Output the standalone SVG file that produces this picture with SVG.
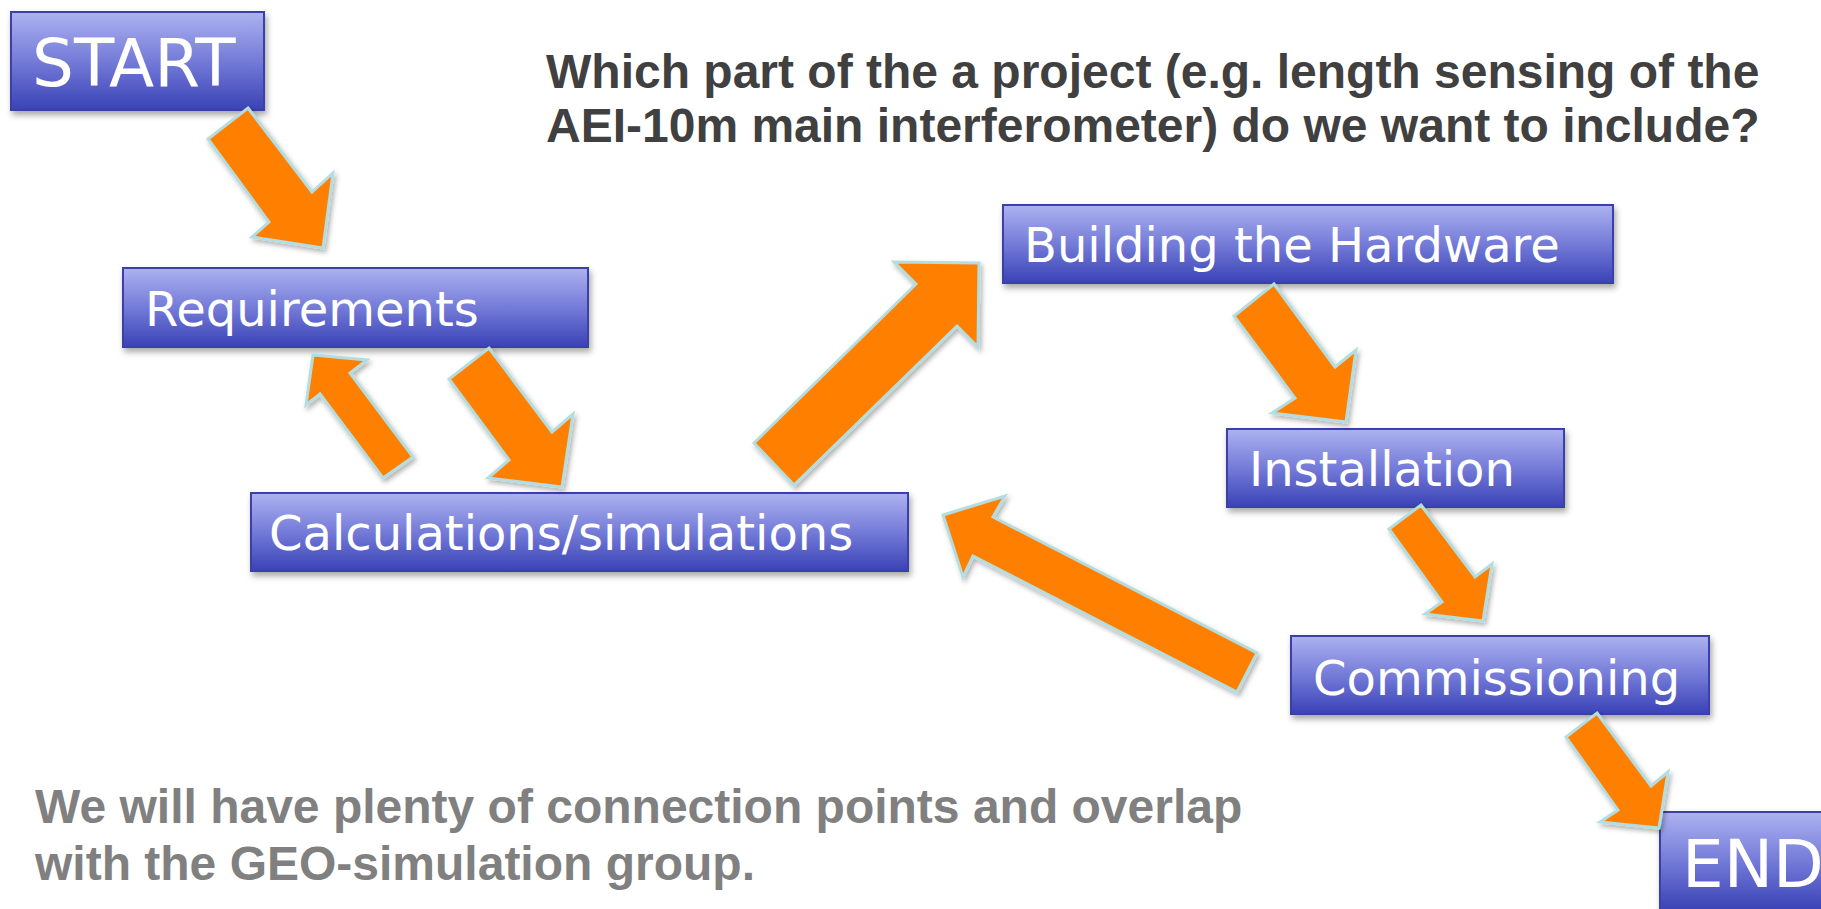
<svg xmlns="http://www.w3.org/2000/svg" width="1821" height="909" viewBox="0 0 1821 909">
<defs>
<linearGradient id="boxg" x1="0" y1="0" x2="0" y2="1">
<stop offset="0" stop-color="#adb2f0"/>
<stop offset="0.5" stop-color="#747bd8"/>
<stop offset="1" stop-color="#3a42b6"/>
</linearGradient>
<filter id="sh" x="-10%" y="-10%" width="130%" height="140%">
<feDropShadow dx="2" dy="4" stdDeviation="3" flood-color="#000" flood-opacity="0.35"/>
</filter>
<filter id="ash" x="-10%" y="-10%" width="130%" height="130%">
<feDropShadow dx="2" dy="3" stdDeviation="2.5" flood-color="#000" flood-opacity="0.3"/>
</filter>
</defs>
<style>
.box{fill:url(#boxg);stroke:#3b41a9;stroke-width:2;filter:url(#sh)}
.lbl{fill:#ffffff;font-family:"DejaVu Sans",Verdana,sans-serif;font-size:48px}
.big{font-size:66px}
.arr{fill:#ff7f00;stroke:#b5dde0;stroke-width:3;stroke-linejoin:miter;filter:url(#ash)}
.hdr{fill:#404040;font-family:"Liberation Sans",Arial,sans-serif;font-weight:bold;font-size:48px}
.note{fill:#808080;font-family:"Liberation Sans",Arial,sans-serif;font-weight:bold;font-size:48px}
</style>
<rect width="1821" height="909" fill="#ffffff"/>
<text class="hdr" x="546" y="88">Which part of the a project (e.g. length sensing of the</text>
<text class="hdr" x="546" y="142">AEI-10m main interferometer) do we want to include?</text>
<text class="note" x="35" y="823">We will have plenty of connection points and overlap</text>
<text class="note" x="35" y="880">with the GEO-simulation group.</text>
<g id="start"><rect class="box" x="11" y="12" width="253" height="98"/><text class="lbl big" x="32" y="86">START</text></g>
<g id="requirements"><rect class="box" x="123" y="268" width="465" height="79"/><text class="lbl" x="145" y="326">Requirements</text></g>
<g id="calculations"><rect class="box" x="251" y="493" width="657" height="78"/><text class="lbl" x="269" y="550">Calculations/simulations</text></g>
<g id="building"><rect class="box" x="1003" y="205" width="610" height="78"/><text class="lbl" x="1024" y="262">Building the Hardware</text></g>
<g id="installation"><rect class="box" x="1227" y="429" width="337" height="78"/><text class="lbl" x="1249" y="486">Installation</text></g>
<g id="commissioning"><rect class="box" x="1291" y="636" width="418" height="78"/><text class="lbl" x="1313" y="695">Commissioning</text></g>
<g id="end"><rect class="box" x="1660" y="812" width="253" height="98"/><text class="lbl big" x="1682" y="887">END</text></g>
<g id="connectors">
<polygon class="arr" points="248,108 312,192 333,173 323,248 252,237 269,222 208,139"/>
<polygon class="arr" points="313,355 367,360 350,373 413,457 383,478 320,394 306,405"/>
<polygon class="arr" points="489,348 552,432 573,414 562,487 488,478 509,460 449,379"/>
<polygon class="arr" points="754,443 916,284 894,262 979,263 978,347 957,326 794,485"/>
<polygon class="arr" points="1274,284 1335,367 1356,350 1346,422 1272,413 1295,398 1234,316"/>
<polygon class="arr" points="1421,505 1475,577 1492,564 1483,621 1425,614 1442,602 1389,529"/>
<polygon class="arr" points="943,515 1005,496 993,517 1257,653 1237,692 973,556 963,577"/>
<polygon class="arr" points="1597,713 1651,786 1668,772 1659,828 1600,822 1618,810 1566,737"/>
</g>
</svg>
